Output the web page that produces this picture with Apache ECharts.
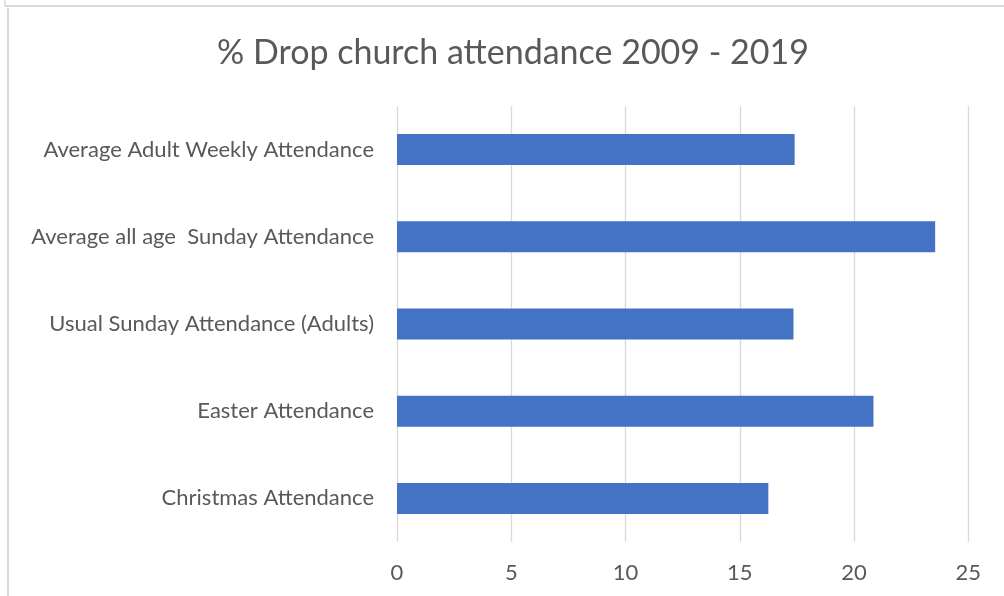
<!DOCTYPE html>
<html>
<head>
<meta charset="utf-8">
<script src="https://cdn.jsdelivr.net/npm/echarts@6/dist/echarts.min.js"></script>
<style>
  html, body { margin: 0; padding: 0; background: #fff; }
  #chart { width: 1004px; height: 596px; }
</style>
</head>
<body>
<div id="chart"></div>
<script>
// % drop in church attendance, 2009 - 2019
var categories = [
  'Average Adult Weekly Attendance',
  'Average all age  Sunday Attendance',
  'Usual Sunday Attendance (Adults)',
  'Easter Attendance',
  'Christmas Attendance'
];
var dropValues = [17.4, 23.55, 17.35, 20.85, 16.25];
var xTicks = { min: 0, max: 25, interval: 5 };

var fontName = 'Lato';
var textGrey = '#595959';
var lineGrey = '#d9d9d9';

var chart = echarts.init(document.getElementById('chart'));
chart.setOption({
  backgroundColor: '#fff',
  animation: false,
  title: {
    text: '% Drop church attendance 2009 - 2019',
    left: 508,
    textAlign: 'center',
    top: 31,
    textStyle: { fontFamily: fontName, fontSize: 34, fontWeight: 'normal', color: textGrey }
  },
  // frame lines of the original screenshot
  graphic: [
    { type: 'line', shape: { x1: 5, y1: 6, x2: 1004, y2: 6 }, style: { stroke: lineGrey, lineWidth: 2 } },
    { type: 'line', shape: { x1: 5, y1: 0, x2: 5, y2: 6 }, style: { stroke: lineGrey, lineWidth: 1.5 } },
    { type: 'line', shape: { x1: 8, y1: 8, x2: 8, y2: 596 }, style: { stroke: lineGrey, lineWidth: 2 } }
  ],
  grid: { left: 397, right: 1004 - 968.3, top: 106, bottom: 596 - 542, containLabel: false },
  xAxis: {
    type: 'value',
    min: xTicks.min,
    max: xTicks.max,
    interval: xTicks.interval,
    axisLine: { show: false },
    axisTick: { show: false },
    axisLabel: { margin: 20, fontFamily: fontName, fontSize: 22, color: textGrey },
    splitLine: { show: true, lineStyle: { color: lineGrey, width: 1.3 } }
  },
  yAxis: {
    type: 'category',
    inverse: true,
    data: categories,
    axisLine: { show: false },
    axisTick: { show: false },
    axisLabel: { margin: 23, fontFamily: fontName, fontSize: 22, color: textGrey }
  },
  series: [{
    type: 'bar',
    data: dropValues,
    barWidth: 31,
    itemStyle: { color: '#4472C4' }
  }]
});
</script>
</body>
</html>
